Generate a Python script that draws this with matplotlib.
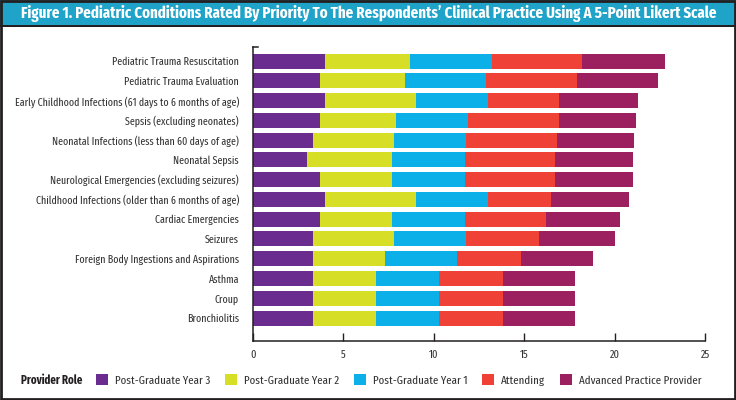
import matplotlib
matplotlib.use("Agg")
import matplotlib.pyplot as plt
from matplotlib.patches import Rectangle
import numpy as np

FAM = ['Fira Sans Extra Condensed', 'Open Sans Condensed', 'IBM Plex Sans Condensed', 'DejaVu Sans']
plt.rcParams['font.family'] = FAM

categories = [
    "Pediatric Trauma Resuscitation",
    "Pediatric Trauma Evaluation",
    "Early Childhood Infections (61 days to 6 months of age)",
    "Sepsis (excluding neonates)",
    "Neonatal Infections (less than 60 days of age)",
    "Neonatal Sepsis",
    "Neurological Emergencies (excluding seizures)",
    "Childhood Infections (older than 6 months of age)",
    "Cardiac Emergencies",
    "Seizures",
    "Foreign Body Ingestions and Aspirations",
    "Asthma",
    "Croup",
    "Bronchiolitis",
]

pgy3 = [4.0, 3.7, 4.0, 3.7, 3.3, 3.0, 3.7, 4.0, 3.7, 3.3, 3.3, 3.3, 3.3, 3.3]
pgy2 = [4.7, 4.7, 5.0, 4.2, 4.5, 4.7, 4.0, 5.0, 4.0, 4.5, 4.0, 3.5, 3.5, 3.5]
pgy1 = [4.5, 4.5, 4.0, 4.0, 4.0, 4.0, 4.0, 4.0, 4.0, 4.0, 4.0, 3.5, 3.5, 3.5]
attending = [5.0, 5.0, 3.9, 5.0, 5.0, 5.0, 5.0, 3.5, 4.5, 4.0, 3.5, 3.5, 3.5, 3.5]
app = [4.6, 4.5, 4.4, 4.3, 4.3, 4.3, 4.3, 4.3, 4.1, 4.2, 4.0, 4.0, 4.0, 4.0]

series_names = ["Post-Graduate Year 3", "Post-Graduate Year 2", "Post-Graduate Year 1",
                "Attending", "Advanced Practice Provider"]
series = [pgy3, pgy2, pgy1, attending, app]
colors = ["#6a2c8f", "#d6df26", "#0cb0e8", "#ef4136", "#9c1f5f"]
xticks = [0, 5, 10, 15, 20, 25]

W, H = 736, 400
fig = plt.figure(figsize=(W / 100, H / 100), dpi=100)

# title bar
fig.patches.append(Rectangle((0, 1 - 26 / H), 1, 26 / H, transform=fig.transFigure,
                             facecolor="#1fa3c9", edgecolor="none", zorder=0))
fig.patches.append(Rectangle((0, 1 - 27 / H), 1, 1.5 / H, transform=fig.transFigure,
                             facecolor="#231f20", edgecolor="none", zorder=1))
fig.text(369 / W, 1 - 13.5 / H,
         "Figure 1. Pediatric Conditions Rated By Priority To The Respondents\u2019 Clinical Practice Using A 5-Point Likert Scale",
         color="white", fontsize=11.6, fontweight="bold", ha="center", va="center")
# border
fig.patches.append(Rectangle((1 / W, 1 / H), 1 - 2 / W, 1 - 2 / H, transform=fig.transFigure,
                             facecolor="none", edgecolor="#231f20", linewidth=2.0, zorder=5))

ax = fig.add_axes([253 / W, 1 - 341 / H, (705 - 253) / W, (341 - 47) / H])
y = np.arange(len(categories))
left = np.zeros(len(categories))
handles = []
for name, vals, c in zip(series_names, series, colors):
    vals = np.array(vals)
    b = ax.barh(y, vals, left=left, height=0.76, color=c, label=name, linewidth=0)
    handles.append(b)
    left += vals

ax.set_ylim(14.16, -0.71)
ax.set_xlim(0, 25)
ax.set_yticks(y)
ax.set_yticklabels(categories, fontsize=7.8, color="#333333")
ax.set_xticks(xticks)
ax.set_xticklabels([str(t) for t in xticks], fontsize=8, color="#333333")
ax.tick_params(axis="y", length=0, pad=10)
ax.tick_params(axis="x", direction="in", length=6, width=1, color="#231f20", pad=6)
for s in ["top", "right"]:
    ax.spines[s].set_visible(False)
for s in ["left", "bottom"]:
    ax.spines[s].set_color("#231f20")
    ax.spines[s].set_linewidth(1.1)
# small stub at the top of the y axis
ax.plot([0, 0.25], [-0.71, -0.71], color="#231f20", lw=1.1, clip_on=False)

# legend
fig.text(21 / W, 1 - 380 / H, "Provider Role", fontsize=8.5, fontweight="bold",
         color="#231f20", ha="left", va="center")
leg = fig.legend(handles=handles, labels=series_names, loc="center left",
                 bbox_to_anchor=(96 / W, 1 - 380 / H), ncol=5, frameon=False,
                 fontsize=8.5, handlelength=1.0, handleheight=1.0, handletextpad=0.6,
                 columnspacing=1.25, borderaxespad=0, borderpad=0)
for t in leg.get_texts():
    t.set_color("#333333")

fig.savefig("out.png", dpi=100)
